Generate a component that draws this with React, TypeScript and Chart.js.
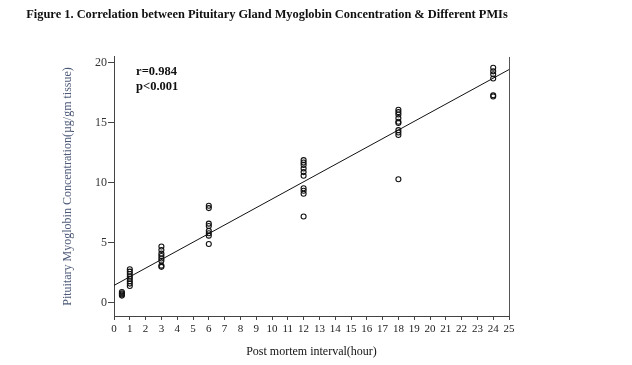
import React, { useEffect, useRef } from "react";
import { Chart, registerables } from "chart.js";

Chart.register(...registerables);

// Myoglobin concentration (µg/gm tissue) per post mortem interval (hours)
const pmiHours = [0.5, 1, 3, 6, 12, 18, 24];
const pmi05 = [0.6, 0.7, 0.8, 0.9];
const pmi1 = [1.4, 1.6, 1.8, 2.0, 2.2, 2.4, 2.6, 2.8];
const pmi3 = [3.0, 3.1, 3.5, 3.7, 3.9, 4.1, 4.4, 4.7];
const pmi6 = [4.9, 5.6, 5.8, 6.0, 6.4, 6.6, 7.9, 8.1];
const pmi12 = [7.2, 9.1, 9.35, 9.55, 10.6, 10.9, 11.2, 11.5, 11.7, 11.9];
const pmi18 = [10.3, 14.0, 14.2, 14.4, 15.0, 15.1, 15.4, 15.7, 15.9, 16.1];
const pmi24 = [17.2, 17.3, 18.7, 19.05, 19.3, 19.6];
const groups = [pmi05, pmi1, pmi3, pmi6, pmi12, pmi18, pmi24];

// Fitted regression line end points
const regX = [0, 25];
const regY = [1.45, 19.45];

const xTickValues = Array.from({ length: 26 }, (_, i) => i);
const yTickValues = [0, 5, 10, 15, 20];

const titleText =
  "Figure 1. Correlation between Pituitary Gland Myoglobin Concentration & Different PMIs";
const statLines = ["r=0.984", "p<0.001"];

const SERIF = "'Liberation Serif', 'DejaVu Serif', serif";

export default function App() {
  const ref = useRef<HTMLCanvasElement | null>(null);

  useEffect(() => {
    if (!ref.current) return;
    const points: { x: number; y: number }[] = [];
    groups.forEach((vals, gi) => {
      vals.forEach((v) => points.push({ x: pmiHours[gi], y: v }));
    });
    const reg = regX.map((x, i) => ({ x, y: regY[i] }));

    const extras = {
      id: "extras",
      afterDatasetsDraw(chart: any) {
        const { ctx, chartArea, scales } = chart;
        ctx.save();
        ctx.strokeStyle = "#555";
        ctx.lineWidth = 1;
        ctx.beginPath();
        ctx.moveTo(chartArea.right + 0.5, chartArea.top);
        ctx.lineTo(chartArea.right + 0.5, chartArea.bottom);
        ctx.stroke();
        ctx.fillStyle = "#111";
        ctx.font = `bold 12.5px ${SERIF}`;
        ctx.textAlign = "left";
        ctx.textBaseline = "middle";
        const x0 = scales.x.getPixelForValue(1.4);
        ctx.fillText(statLines[0], x0, scales.y.getPixelForValue(19.3));
        ctx.fillText(statLines[1], x0, scales.y.getPixelForValue(18.0));
        ctx.restore();
      },
    };

    const chart = new Chart(ref.current, {
      type: "scatter",
      data: {
        datasets: [
          {
            type: "line",
            data: reg,
            borderColor: "#111",
            borderWidth: 1,
            pointRadius: 0,
            fill: false,
          } as any,
          {
            data: points,
            pointStyle: "circle",
            pointRadius: 2.5,
            pointBorderWidth: 1.1,
            pointBorderColor: "#111",
            pointBackgroundColor: "rgba(0,0,0,0)",
          } as any,
        ],
      },
      options: {
        animation: false,
        responsive: false,
        maintainAspectRatio: false,
        layout: { padding: { left: 25, right: 25, top: 0, bottom: 0 } },
        plugins: {
          legend: { display: false },
          tooltip: { enabled: false },
          title: {
            display: true,
            text: titleText,
            color: "#111",
            font: { family: SERIF, size: 12.4, weight: "bold" },
            padding: { top: 7.5, bottom: 34.6 },
          },
        },
        scales: {
          x: {
            type: "linear",
            min: 0,
            max: 25,
            afterFit: (s: any) => {
              s.height = 49;
            },
            afterBuildTicks: (s: any) => {
              s.ticks = xTickValues.map((v) => ({ value: v }));
            },
            ticks: {
              autoSkip: false,
              maxRotation: 0,
              padding: 3,
              color: "#222",
              font: { family: SERIF, size: 11 },
            },
            grid: {
              display: true,
              drawOnChartArea: false,
              drawTicks: true,
              tickLength: 4,
              color: "#444",
            },
            border: { display: true, color: "#444" },
            title: {
              display: true,
              text: "Post mortem interval(hour)",
              color: "#111",
              font: { family: SERIF, size: 12 },
              padding: { top: 8, bottom: 6 },
            },
          },
          y: {
            type: "linear",
            min: -1.1,
            max: 20.5,
            afterFit: (s: any) => {
              s.width = 89;
            },
            afterBuildTicks: (s: any) => {
              s.ticks = yTickValues.map((v) => ({ value: v }));
            },
            ticks: {
              padding: 1,
              color: "#333",
              font: { family: SERIF, size: 12 },
            },
            grid: {
              display: true,
              drawOnChartArea: false,
              drawTicks: true,
              tickLength: 6,
              color: "#444",
            },
            border: { display: true, color: "#444" },
            title: {
              display: true,
              text: "Pituitary Myoglobin Concentration(µg/gm tissue)",
              color: "#4d5a78",
              font: { family: SERIF, size: 12 },
              padding: { top: 36, bottom: 0 },
            },
          },
        },
      },
      plugins: [extras],
    });
    return () => chart.destroy();
  }, []);

  return (
    <div style={{ position: "absolute", left: 0, top: 0, width: 534, height: 365, background: "#fff" }}>
      <canvas ref={ref} width={534} height={365} />
    </div>
  );
}
